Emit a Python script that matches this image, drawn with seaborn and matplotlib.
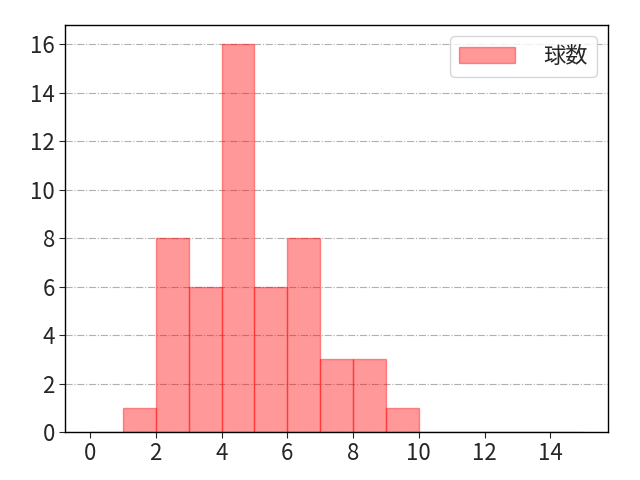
import matplotlib
matplotlib.use("Agg")
import matplotlib.pyplot as plt
import seaborn as sns
import numpy as np

# bin centers and counts (bins of width 1, from 0 to 15)
bin_edges = list(range(0, 16))
bin_centers = [0.5, 1.5, 2.5, 3.5, 4.5, 5.5, 6.5, 7.5, 8.5, 9.5, 10.5, 11.5, 12.5, 13.5, 14.5]
counts = [0, 1, 8, 6, 16, 6, 8, 3, 3, 1, 0, 0, 0, 0, 0]
label = "球数"

sns.set_style("white")
plt.rcParams['font.family'] = ['Noto Sans CJK JP', 'DejaVu Sans']

fig, ax = plt.subplots(figsize=(6.4, 4.8), dpi=100)
sns.histplot(x=bin_centers, weights=counts, bins=bin_edges, ax=ax,
             facecolor=(1, 0, 0, 0.4), edgecolor=(1, 0, 0, 0.4), linewidth=1,
             label=label)
ax.set_xlabel("")
ax.set_ylabel("")
ax.set_xticks(range(0, 15, 2))
ax.set_yticks(range(0, 17, 2))
ax.tick_params(labelsize=16, length=4, bottom=True, left=True)
ax.grid(axis="y", linestyle="-.", color="#b0b0b0", linewidth=0.8)
ax.set_axisbelow(True)
for s in ax.spines.values():
    s.set_color("black")
    s.set_linewidth(1)
ax.legend(fontsize=16, loc="upper right", handlelength=2.5, handletextpad=1.3)
fig.subplots_adjust(left=0.102, right=0.95, bottom=0.1, top=0.948)
fig.savefig("out.png", dpi=100)
